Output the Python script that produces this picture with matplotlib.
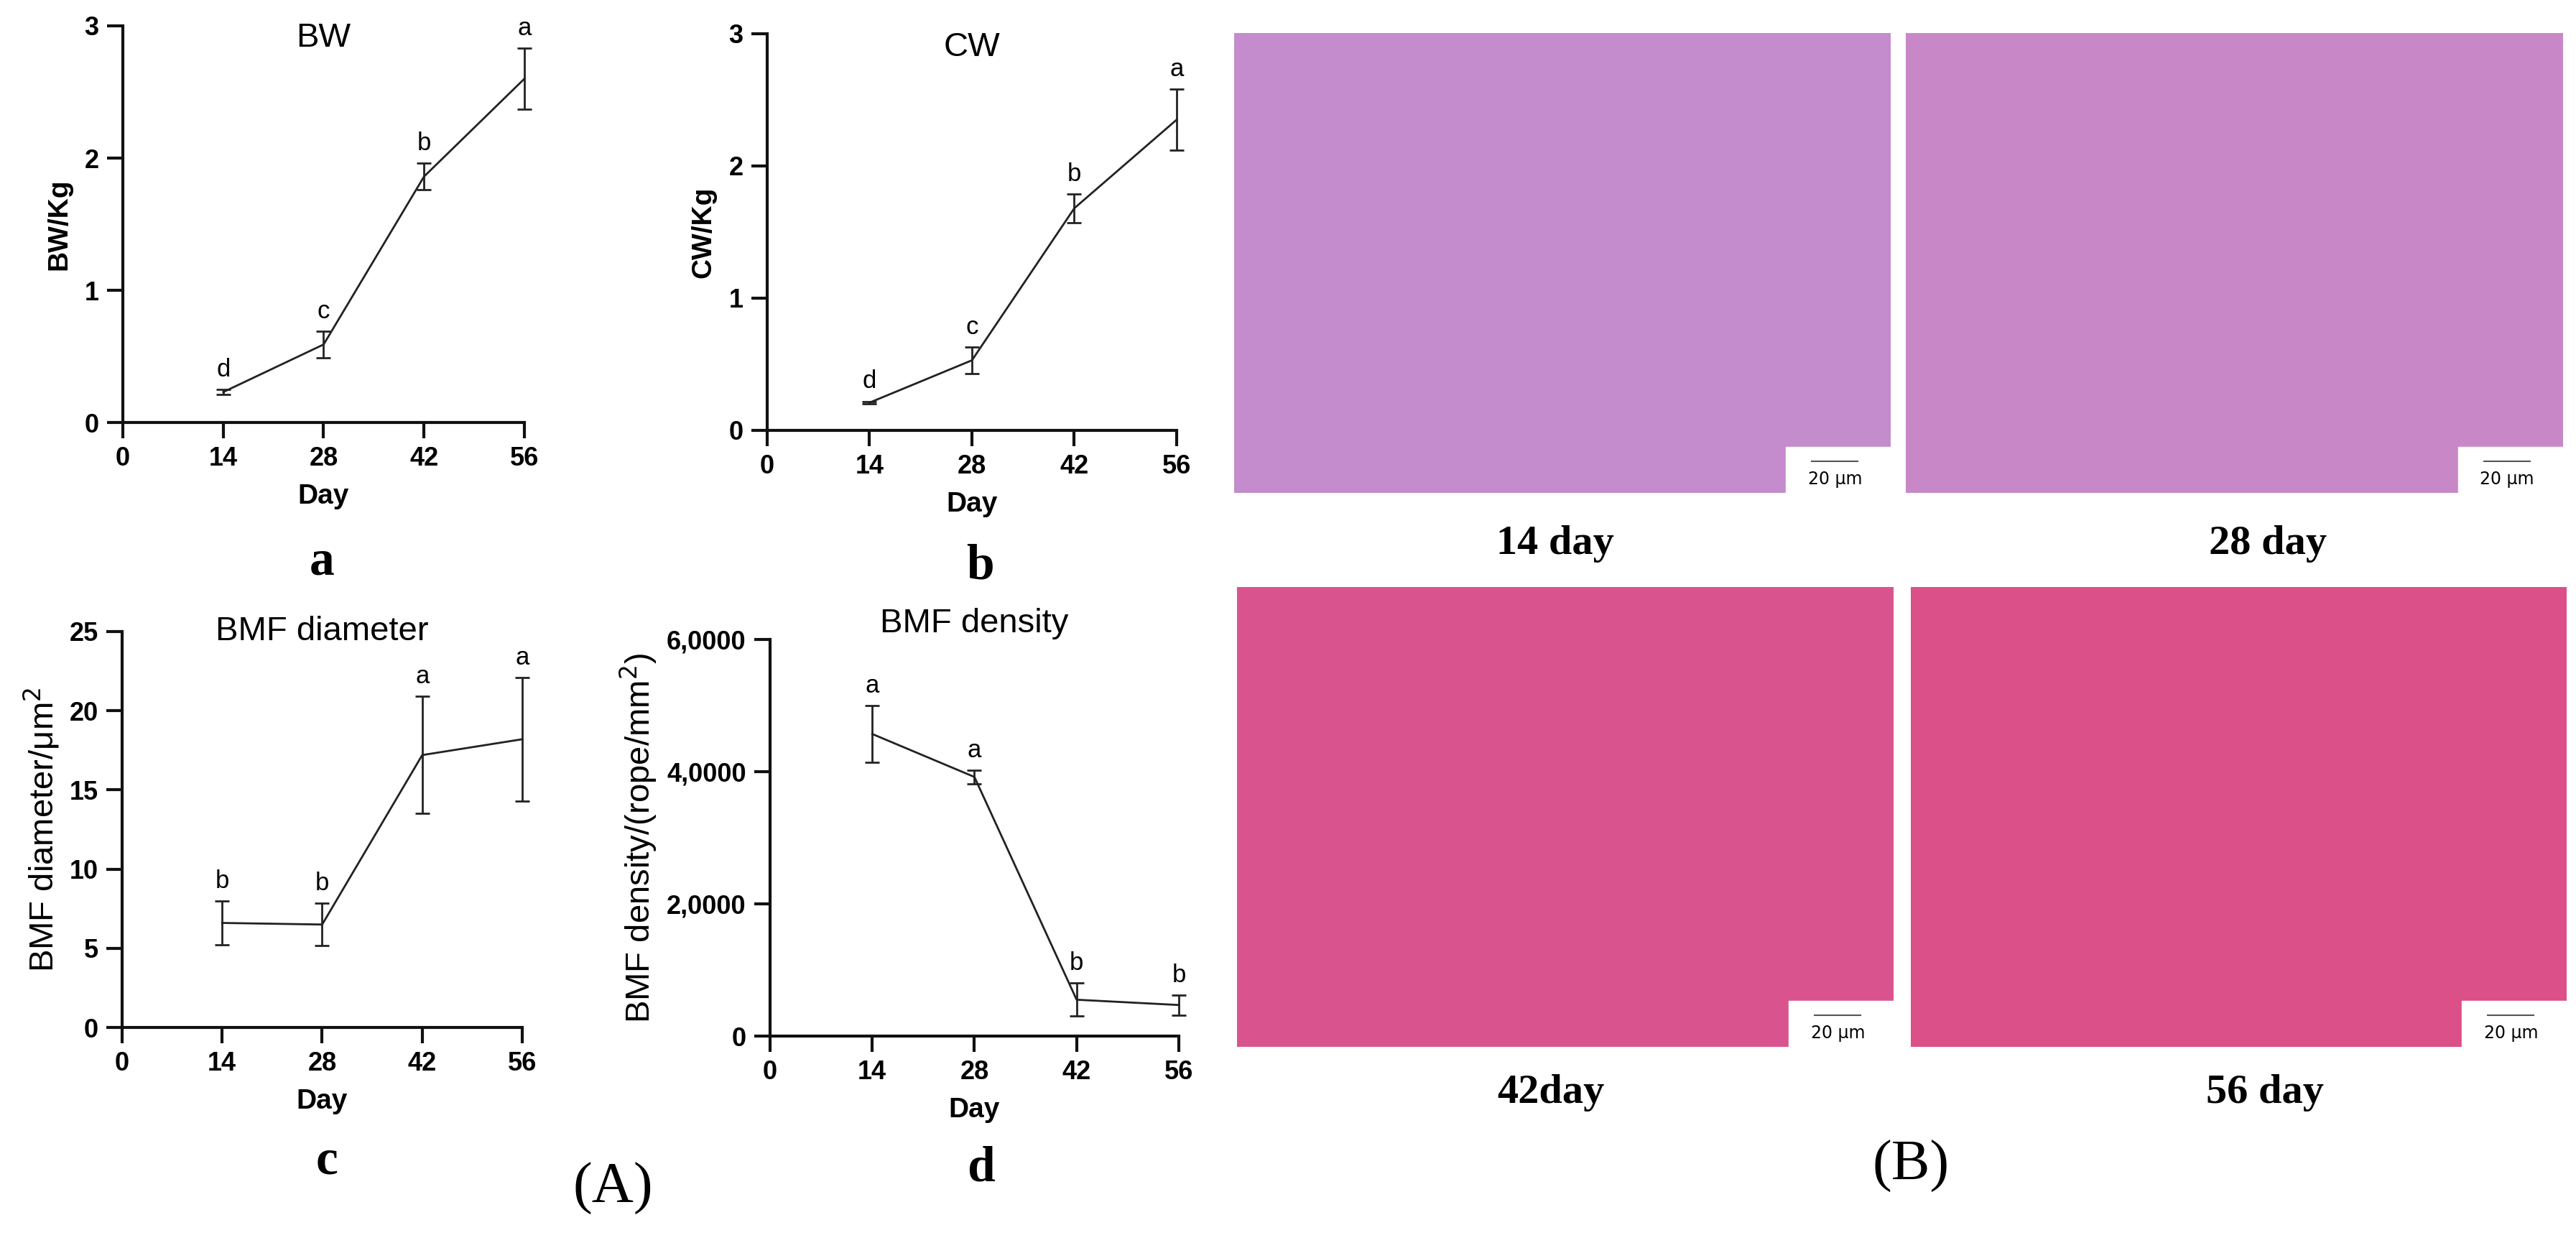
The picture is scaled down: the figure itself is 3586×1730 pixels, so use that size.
import matplotlib
matplotlib.use("Agg")
import matplotlib.pyplot as plt
from matplotlib.patches import Rectangle

days = [14, 28, 42, 56]
bw = [0.23, 0.59, 1.86, 2.60]
bw_err = [0.02, 0.10, 0.10, 0.23]
bw_let = ["d", "c", "b", "a"]
cw = [0.21, 0.53, 1.68, 2.35]
cw_err = [0.01, 0.10, 0.11, 0.23]
cw_let = ["d", "c", "b", "a"]
dia = [6.6, 6.5, 17.2, 18.2]
dia_err = [1.4, 1.35, 3.7, 3.9]
dia_let = ["b", "b", "a", "a"]
den = [45700, 39200, 5500, 4700]
den_err = [4300, 1000, 2500, 1500]
den_let = ["a", "a", "b", "b"]
den_ticks = [0, 20000, 40000, 60000]
den_ticklabels = ["0", "2,0000", "4,0000", "6,0000"]
hist_labels = ["14 day", "28 day", "42day", "56 day"]

W, H = 3587, 1730
fig = plt.figure(figsize=(W/100, H/100), dpi=100)
fig.patch.set_facecolor("white")

def ax_at(x0, x1, y0, y1):
    return fig.add_axes([x0/W, 1-y1/H, (x1-x0)/W, (y1-y0)/H])

def panel(ax, y, e, let, ylim, yticks, title, title_y, ylabel, bold_label, yticklabels=None, lpad=0.02):
    ax.errorbar(days, y, yerr=e, color="#222222", lw=2.0, capsize=7, capthick=2.0, elinewidth=2.0, clip_on=False)
    ax.set_xlim(0, 56)
    ax.set_ylim(*ylim)
    ax.set_xticks([0, 14, 28, 42, 56])
    ax.set_yticks(yticks)
    if yticklabels:
        ax.set_yticklabels(yticklabels)
    for s in ["top", "right"]:
        ax.spines[s].set_visible(False)
    for s in ["left", "bottom"]:
        ax.spines[s].set_linewidth(3)
        ax.spines[s].set_color("#111111")
    ax.tick_params(length=16, width=3, labelsize=26, direction="out", pad=8, color="#111111")
    for t in ax.get_xticklabels() + ax.get_yticklabels():
        t.set_fontweight("bold")
        t.set_family("Liberation Sans")
    ax.set_xlabel("Day", fontsize=28, fontweight="bold", family="Liberation Sans", labelpad=12)
    if bold_label:
        ax.set_ylabel(ylabel, fontsize=28, fontweight="bold", family="Liberation Sans", labelpad=12)
    else:
        ax.set_ylabel(ylabel, fontsize=34, family="Liberation Sans", labelpad=8)
    ax.text(0.5, title_y, title, transform=ax.transAxes, ha="center", va="center", fontsize=34, family="Liberation Sans")
    span = ylim[1]-ylim[0]
    for d, v, er, l in zip(days, y, e, let):
        ax.text(d, v+er+lpad*span, l, ha="center", va="bottom", fontsize=25, family="Liberation Sans")
    ax.patch.set_alpha(0)

a = ax_at(171, 730, 36, 588)
panel(a, bw, bw_err, bw_let, (0, 3), [0, 1, 2, 3], "BW", 0.97, "BW/Kg", True)
b = ax_at(1068, 1638, 47, 599)
panel(b, cw, cw_err, cw_let, (0, 3), [0, 1, 2, 3], "CW", 0.965, "CW/Kg", True)
c = ax_at(170, 727, 879, 1430)
panel(c, dia, dia_err, dia_let, (0, 25), [0, 5, 10, 15, 20, 25], "BMF diameter", 1.0, "BMF diameter/μm$^2$", False)
d = ax_at(1072, 1641, 890, 1442)
panel(d, den, den_err, den_let, (0, 60000), den_ticks, "BMF density", 1.04, "BMF density/(rope/mm$^2$)", False, den_ticklabels)

sub = [("a", 448, 783), ("b", 1364, 789), ("c", 455, 1617), ("d", 1366, 1626), ("(A)", 853, 1654), ("(B)", 2660, 1623)]
for s, x, y in sub:
    if s.startswith("("):
        fig.text(x/W, 1-y/H, s, ha="center", va="center", fontsize=58, family="Liberation Serif")
    else:
        fig.text(x/W, 1-y/H, s, ha="center", va="center", fontsize=50, fontweight="bold", family="Liberation Serif")

# histology panels (placeholders)
boxes = [(1718, 2632, 46, 686), (2653, 3568, 46, 686), (1722, 2636, 817, 1457), (2660, 3573, 817, 1457)]
cols = ["#c48ccc", "#c888c8", "#d9548e", "#db5088"]
lab_pos = [(2165, 757), (3157, 757), (2159, 1521), (3153, 1521)]
for (x0, x1, y0, y1), col, lab, (lx, ly) in zip(boxes, cols, hist_labels, lab_pos):
    hx = fig.add_axes([x0/W, 1-y1/H, (x1-x0)/W, (y1-y0)/H])
    hx.set_xlim(0, 1); hx.set_ylim(0, 1); hx.axis("off")
    hx.add_patch(Rectangle((0, 0), 1, 1, color=col))
    hx.add_patch(Rectangle((0.84, 0), 0.16, 0.1, color="white"))
    hx.plot([0.88, 0.95], [0.068, 0.068], color="#555555", lw=1.5)
    hx.text(0.915, 0.03, "20 μm", ha="center", va="center", fontsize=17, family="DejaVu Sans")
    fig.text(lx/W, 1-ly/H, lab, ha="center", va="center", fontsize=42, fontweight="bold", family="Liberation Serif")

fig.savefig("out.png", dpi=100)
